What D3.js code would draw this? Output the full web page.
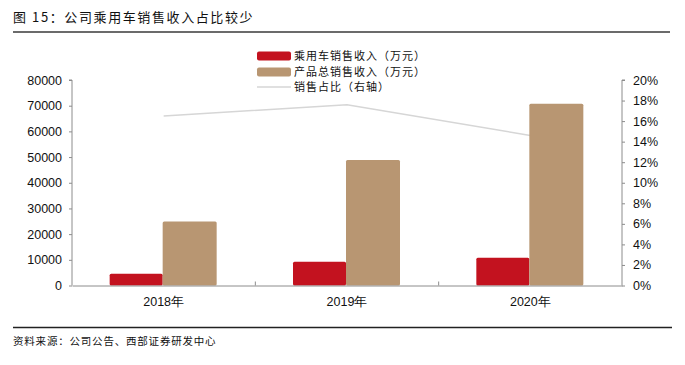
<!DOCTYPE html>
<html>
<head>
<meta charset="utf-8">
<style>
  body { margin: 0; background: #fff; }
  svg text { font-family: "Liberation Sans", Arial, sans-serif; fill: #111; }
  .cjk { font-family: "Noto Sans CJK SC", sans-serif; }
</style>
</head>
<body>
<svg id="chart" width="685" height="365"></svg>
<script src="https://d3js.org/d3.v7.min.js"></script>
<script>
  const years = ["2018年", "2019年", "2020年"];
  const carRevenue = [4600, 9200, 10800];
  const totalRevenue = [24900, 48900, 70800];
  const carShare = [0.165, 0.176, 0.146];
  const leftTicks = [0, 10000, 20000, 30000, 40000, 50000, 60000, 70000, 80000];
  const rightTicks = [0, 0.02, 0.04, 0.06, 0.08, 0.10, 0.12, 0.14, 0.16, 0.18, 0.20];
  const seriesNames = ["乘用车销售收入（万元）", "产品总销售收入（万元）", "销售占比（右轴）"];

  const RED = "#c3121f", TAN = "#b89672", LINE = "#d6d6d6", AXIS = "#8c8c8c";
  const svg = d3.select("#chart");
  const m = { left: 72, right: 622, top: 80, bottom: 285.5 };

  // title + rules
  svg.append("text").attr("class", "cjk").attr("x", 13).attr("y", 22)
    .attr("font-size", 13).attr("letter-spacing", 1.6).text("图 15：公司乘用车销售收入占比较少");
  svg.append("line").attr("x1", 13).attr("x2", 670).attr("y1", 32).attr("y2", 32)
    .attr("stroke", "#6b6b6b").attr("stroke-width", 2);
  svg.append("line").attr("x1", 13).attr("x2", 672).attr("y1", 327.5).attr("y2", 327.5)
    .attr("stroke", "#222").attr("stroke-width", 1.3);
  svg.append("text").attr("class", "cjk").attr("x", 13).attr("y", 345)
    .attr("font-size", 10.5).attr("letter-spacing", 0.8).text("资料来源：公司公告、西部证券研发中心");

  const x = d3.scaleBand().domain(years).range([m.left, m.right]);
  const y = d3.scaleLinear().domain([0, 80000]).range([m.bottom, m.top]);
  const yR = d3.scaleLinear().domain([0, 0.2]).range([m.bottom, m.top]);
  const bw = 53;

  // line behind bars
  svg.append("path").datum(carShare)
    .attr("fill", "none").attr("stroke", LINE).attr("stroke-width", 1.5)
    .attr("d", d3.line().x((d, i) => x(years[i]) + x.bandwidth() / 2).y(d => yR(d)));

  const g = svg.append("g");
  g.selectAll("rect.car").data(carRevenue).join("rect").attr("class", "car")
    .attr("x", (d, i) => x(years[i]) + x.bandwidth() / 2 - bw - 1)
    .attr("width", bw).attr("y", d => y(d)).attr("height", d => y(0) - y(d))
    .attr("rx", 1.5).attr("fill", RED);
  g.selectAll("rect.tot").data(totalRevenue).join("rect").attr("class", "tot")
    .attr("x", (d, i) => x(years[i]) + x.bandwidth() / 2 - 1)
    .attr("width", bw + 1).attr("y", d => y(d)).attr("height", d => y(0) - y(d))
    .attr("rx", 1.5).attr("fill", TAN);

  // axes
  const left = svg.append("g").attr("transform", `translate(${m.left},0)`)
    .call(d3.axisLeft(y).tickValues(leftTicks).tickSize(3).tickPadding(7).tickFormat(d3.format("d")));
  const right = svg.append("g").attr("transform", `translate(${m.right},0)`)
    .call(d3.axisRight(yR).tickValues(rightTicks).tickSize(3).tickPadding(8).tickFormat(d3.format(".0%")));
  [left, right].forEach(a => {
    a.select(".domain").attr("stroke", AXIS).attr("d", a === left
      ? `M-3,${m.top}H0V${m.bottom}` : `M3,${m.top}H0V${m.bottom}`);
    a.selectAll(".tick line").attr("stroke", AXIS);
    a.selectAll("text").attr("font-size", 12.5).attr("fill", "#111")
      .attr("font-family", "'Liberation Sans', Arial, sans-serif");
  });

  const bottom = svg.append("g").attr("transform", `translate(0,${m.bottom})`)
    .call(d3.axisBottom(x).tickSize(0).tickPadding(12));
  bottom.select(".domain").attr("stroke", AXIS);
  bottom.selectAll("text").attr("font-size", 12.5).attr("fill", "#111")
    .attr("font-family", "'Liberation Sans', 'Noto Sans CJK SC', sans-serif");
  svg.append("g").selectAll("line").data(years.slice(1)).join("line")
    .attr("x1", d => x(d)).attr("x2", d => x(d))
    .attr("y1", m.bottom).attr("y2", m.bottom - 4).attr("stroke", AXIS);

  // legend
  const lg = svg.append("g");
  const ly = [56, 72, 87];
  seriesNames.forEach((name, i) => {
    if (i < 2) {
      lg.append("rect").attr("x", 257).attr("y", ly[i] - 4.5).attr("width", 34).attr("height", 9)
        .attr("rx", 2).attr("fill", i === 0 ? RED : TAN);
    } else {
      lg.append("line").attr("x1", 257).attr("x2", 291).attr("y1", ly[i]).attr("y2", ly[i])
        .attr("stroke", LINE).attr("stroke-width", 1.5);
    }
    lg.append("text").attr("class", "cjk").attr("x", 294).attr("y", ly[i] + 4)
      .attr("font-size", 11).attr("letter-spacing", 1).text(name);
  });
</script>
</body>
</html>
